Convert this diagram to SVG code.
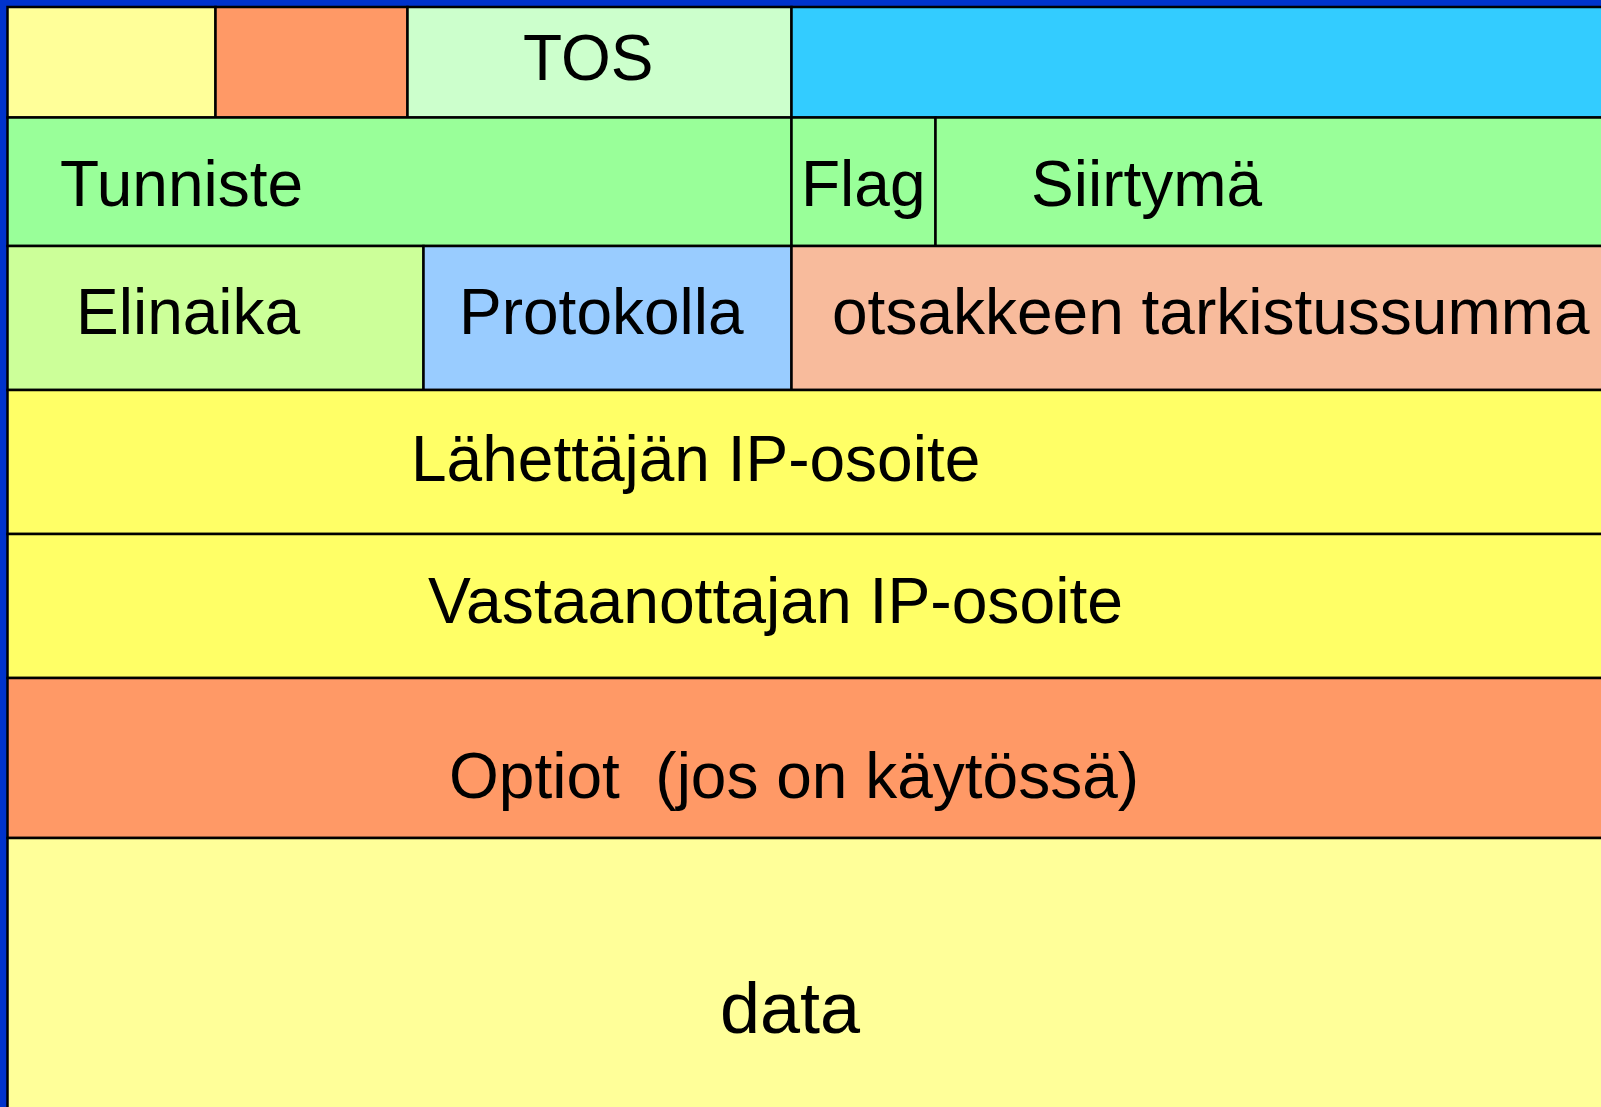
<svg xmlns="http://www.w3.org/2000/svg" width="1601" height="1107" viewBox="0 0 1601 1107">
<style>
.c{stroke:#000;stroke-width:2.5}
text{font-family:"Liberation Sans",Arial,sans-serif;font-size:64px;fill:#000;white-space:pre}
</style>
<rect x="0" y="0" width="1601" height="1107" fill="#0033CC"/>
<g id="row1">
<rect class="c" x="7.5" y="7" width="208" height="110.5" fill="#FFFF99"/>
<rect class="c" x="215.5" y="7" width="192" height="110.5" fill="#FF9966"/>
<g id="tos"><rect class="c" x="407.5" y="7" width="384" height="110.5" fill="#CCFFCC"/><text x="523" y="80">TOS</text></g>
<rect class="c" x="791.5" y="7" width="812" height="110.5" fill="#33CCFF"/>
</g>
<g id="row2">
<g id="tunniste"><rect class="c" x="7.5" y="117.5" width="784" height="128.5" fill="#99FF99"/><text x="60" y="206">Tunniste</text></g>
<g id="flag"><rect class="c" x="791.5" y="117.5" width="144" height="128.5" fill="#99FF99"/><text x="801" y="206">Flag</text></g>
<g id="siirtyma"><rect class="c" x="935.5" y="117.5" width="668" height="128.5" fill="#99FF99"/><text x="1031" y="206">Siirtymä</text></g>
</g>
<g id="row3">
<g id="elinaika"><rect class="c" x="7.5" y="246" width="416" height="144" fill="#CCFF99"/><text x="76" y="334">Elinaika</text></g>
<g id="protokolla"><rect class="c" x="423.5" y="246" width="368" height="144" fill="#99CCFF"/><text x="459" y="334">Protokolla</text></g>
<g id="checksum"><rect class="c" x="791.5" y="246" width="812" height="144" fill="#F8BB9C"/><text x="832" y="334">otsakkeen tarkistussumma</text></g>
</g>
<g id="src"><rect class="c" x="7.5" y="390" width="1596" height="144" fill="#FFFF66"/><text x="411" y="481">Lähettäjän IP-osoite</text></g>
<g id="dst"><rect class="c" x="7.5" y="534" width="1596" height="144" fill="#FFFF66"/><text x="428" y="623" textLength="695" lengthAdjust="spacingAndGlyphs">Vastaanottajan IP-osoite</text></g>
<g id="options"><rect class="c" x="7.5" y="678" width="1596" height="160" fill="#FF9966"/><text x="449" y="798">Optiot  (jos on käytössä)</text></g>
<g id="data"><rect class="c" x="7.5" y="838" width="1596" height="280" fill="#FFFF99"/><text x="720" y="1033" style="font-size:72px">data</text></g>
<g id="connectors"></g>
</svg>
